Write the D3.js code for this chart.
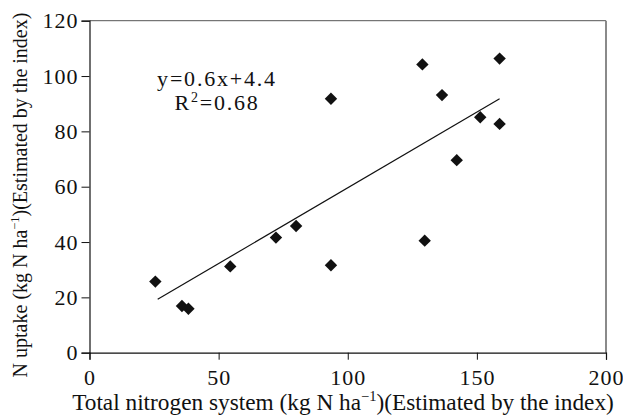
<!DOCTYPE html>
<html><head><meta charset="utf-8">
<script src="https://cdn.jsdelivr.net/npm/d3@7"></script>
<style>html,body{margin:0;padding:0;background:#fff;}svg{display:block;}</style>
</head><body>
<svg id="chart" width="623" height="417"></svg>
<script>
const totalN = [25.5, 35.8, 38.3, 54.5, 72.2, 80.0, 93.5, 129.8, 93.5, 128.9, 158.8, 136.5, 151.3, 158.8, 142.2];
const uptakeN = [25.7, 16.9, 15.9, 31.2, 41.6, 45.8, 31.6, 40.5, 91.8, 104.2, 106.3, 93.1, 85.1, 82.7, 69.6];
const trendX = [26.4, 158.8];
const trendY = [19.3, 91.8];
const xTicks = [0, 50, 100, 150, 200];
const yTicks = [0, 20, 40, 60, 80, 100, 120];
const eqLines = ["y=0.6x+4.4", "R²=0.68"];

const svg = d3.select("#chart");
const font = "'Liberation Serif', 'Times New Roman', serif";
const x = d3.scaleLinear().domain([0, 200]).range([89.5, 606]);
const y = d3.scaleLinear().domain([0, 120]).range([352.7, 20.7]);

// frame top/right
svg.append("line").attr("x1", x(0)).attr("x2", x(200)).attr("y1", y(120)).attr("y2", y(120))
  .attr("stroke", "#555").attr("stroke-width", 1);
svg.append("line").attr("x1", x(200)).attr("x2", x(200)).attr("y1", y(120)).attr("y2", y(0))
  .attr("stroke", "#8a8a8a").attr("stroke-width", 2);

// axes
const xAxis = svg.append("g").attr("transform", `translate(0,${y(0)})`)
  .call(d3.axisBottom(x).tickValues(xTicks).tickSize(7).tickPadding(10).tickFormat(d3.format("d")));
const yAxis = svg.append("g").attr("transform", `translate(${x(0)},0)`)
  .call(d3.axisLeft(y).tickValues(yTicks).tickSize(8).tickPadding(3).tickFormat(d3.format("d")));
[xAxis, yAxis].forEach(g => {
  g.select(".domain").attr("stroke", "#111").attr("stroke-width", 1.2);
  g.selectAll(".tick line").attr("stroke", "#111");
  g.selectAll("text").attr("fill", "#111").style("font-family", font).style("font-size", "22px")
    .style("letter-spacing", "1px");
});
xAxis.selectAll("text").attr("dy", "0.71em");

// trend line
svg.append("line")
  .attr("x1", x(trendX[0])).attr("y1", y(trendY[0]))
  .attr("x2", x(trendX[1])).attr("y2", y(trendY[1]))
  .attr("stroke", "#111").attr("stroke-width", 1.2);

// diamonds
const r = 6.2;
svg.append("g").selectAll("path").data(totalN.map((v, i) => [v, uptakeN[i]])).join("path")
  .attr("d", d => `M${x(d[0])},${y(d[1]) - r}L${x(d[0]) + r},${y(d[1])}L${x(d[0])},${y(d[1]) + r}L${x(d[0]) - r},${y(d[1])}Z`)
  .attr("fill", "#111");

// equation
const eq = svg.append("g").style("font-family", font).style("font-size", "22px").attr("fill", "#111");
eq.append("text").attr("x", 217).attr("y", 86).attr("text-anchor", "middle").style("letter-spacing", "1.8px").text(eqLines[0]);
const t2 = eq.append("text").attr("x", 217).attr("y", 110).attr("text-anchor", "middle").style("letter-spacing", "1.8px");
t2.append("tspan").text("R");
t2.append("tspan").attr("dy", -8).style("font-size", "14px").text("2");
t2.append("tspan").attr("dy", 8).text("=0.68");

// axis titles
function title(sel, before, fs) {
  sel.append("tspan").text(before + " (kg N ha");
  sel.append("tspan").attr("dy", -0.38 * fs).style("font-size", (0.62 * fs) + "px").text("−1");
  sel.append("tspan").attr("dy", 0.38 * fs).text(")(Estimated by the index)");
}
const xt = svg.append("text").attr("x", 343).attr("y", 410).attr("text-anchor", "middle")
  .style("font-family", font).style("font-size", "23.3px").attr("fill", "#111");
title(xt, "Total nitrogen system", 23.3);
const yt = svg.append("text").attr("transform", "translate(27,195) rotate(-90)").attr("text-anchor", "middle")
  .style("font-family", font).style("font-size", "20px").attr("fill", "#111");
title(yt, "N uptake", 20);
</script>
</body></html>
